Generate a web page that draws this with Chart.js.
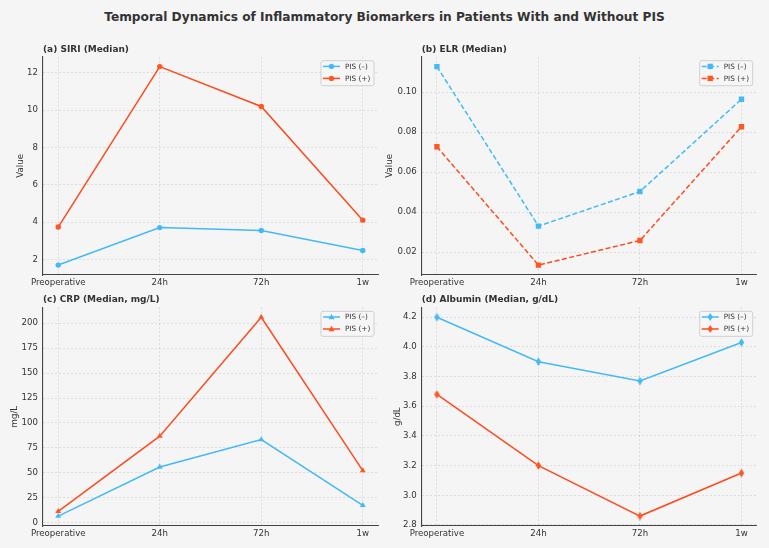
<!DOCTYPE html>
<html><head><meta charset="utf-8">
<script src="https://cdn.jsdelivr.net/npm/chart.js@4.4.0/dist/chart.umd.min.js"></script>
<style>
html,body{margin:0;padding:0;background:#f5f5f5;}
#wrap{position:relative;width:769px;height:548px;background:#f5f5f5;overflow:hidden;}
#title{position:absolute;left:0;top:10px;width:769px;line-height:14px;text-align:center;font-family:"DejaVu Sans";font-weight:bold;font-size:12.2px;color:#333;white-space:nowrap;}
canvas{position:absolute;}
</style></head><body>
<div id="wrap">
<div id="title">Temporal Dynamics of Inflammatory Biomarkers in Patients With and Without PIS</div>
<canvas id="c0"></canvas><canvas id="c1"></canvas><canvas id="c2"></canvas><canvas id="c3"></canvas>
</div>
<script>
const categories = ['Preoperative', '24h', '72h', '1w'];
const seriesLabels = ['PIS (–)', 'PIS (+)'];
const siriNeg = [1.69, 3.70, 3.55, 2.47];
const siriPos = [3.73, 12.34, 10.20, 4.10];
const elrNeg = [0.1128, 0.0330, 0.0503, 0.0965];
const elrPos = [0.0727, 0.0135, 0.0258, 0.0827];
const crpNeg = [6.7, 55.9, 83.4, 17.4];
const crpPos = [11.4, 86.8, 206.0, 52.3];
const albNeg = [4.20, 3.90, 3.77, 4.03];
const albPos = [3.68, 3.20, 2.86, 3.15];
const siriTicks = [2, 4, 6, 8, 10, 12];
const elrTicks = [0.02, 0.04, 0.06, 0.08, 0.10];
const crpTicks = [0, 25, 50, 75, 100, 125, 150, 175, 200];
const albTicks = [2.8, 3.0, 3.2, 3.4, 3.6, 3.8, 4.0, 4.2];
const panelTitles = ['(a) SIRI (Median)', '(b) ELR (Median)', '(c) CRP (Median, mg/L)', '(d) Albumin (Median, g/dL)'];
const yTitles = ['Value', 'Value', 'mg/L', 'g/dL'];

const BLUE = '#45b9f5', RED = '#ff4a1f', REDM = '#ff5722';
const FONT = 'DejaVu Sans';

function thinDiamond(color) {
  const c = document.createElement('canvas');
  c.width = 7; c.height = 9;
  const g = c.getContext('2d');
  g.fillStyle = color;
  g.beginPath(); g.moveTo(3.5, 0.3); g.lineTo(6.2, 4.5); g.lineTo(3.5, 8.7); g.lineTo(0.8, 4.5); g.closePath(); g.fill();
  return c;
}

function drawMarker(ctx, style, x, y, color) {
  ctx.fillStyle = color;
  ctx.beginPath();
  if (style === 'circle') { ctx.arc(x, y, 2.6, 0, Math.PI * 2); }
  else if (style === 'rect') { ctx.rect(x - 2.7, y - 2.7, 5.4, 5.4); }
  else if (style === 'triangle') { ctx.moveTo(x, y - 3.2); ctx.lineTo(x + 3, y + 2.2); ctx.lineTo(x - 3, y + 2.2); ctx.closePath(); }
  else { ctx.moveTo(x, y - 4); ctx.lineTo(x + 2.6, y); ctx.lineTo(x, y + 4); ctx.lineTo(x - 2.6, y); ctx.closePath(); }
  ctx.fill();
}

const insideLegend = {
  id: 'insideLegend',
  afterDraw(chart) {
    const ctx = chart.ctx, a = chart.chartArea;
    const w = 53, h = 25, x = a.right - 4 - w, y = a.top + 4;
    ctx.save();
    ctx.beginPath();
    if (ctx.roundRect) ctx.roundRect(x, y, w, h, 2); else ctx.rect(x, y, w, h);
    ctx.fillStyle = 'rgba(246,246,246,0.85)';
    ctx.fill();
    ctx.strokeStyle = '#cfcfcf'; ctx.lineWidth = 1; ctx.stroke();
    chart.data.datasets.forEach((ds, i) => {
      const cy = y + 5.7 + i * 12;
      ctx.strokeStyle = ds.borderColor; ctx.lineWidth = 1.5;
      ctx.setLineDash(ds.borderDash || []);
      ctx.beginPath(); ctx.moveTo(x + 2, cy); ctx.lineTo(x + 19, cy); ctx.stroke();
      ctx.setLineDash([]);
      drawMarker(ctx, ds.markerKind, x + 10.5, cy, ds.pointBackgroundColor);
      ctx.fillStyle = '#333'; ctx.font = '7.3px "' + FONT + '"';
      ctx.textBaseline = 'middle'; ctx.textAlign = 'left';
      ctx.fillText(ds.label, x + 24, cy + 0.5);
    });
    ctx.restore();
  }
};

const panels = [
  { id: 'c0', left: 0, top: 30, w: 385, h: 265, yW: 43, rPad: 7, xH: 20, tTop: 13.9, tBot: 2, yTitlePad: 15.9,
    neg: siriNeg, pos: siriPos, ticks: siriTicks, dec: 0, kind: 'circle', dash: null },
  { id: 'c1', left: 385, top: 30, w: 384, h: 265, yW: 36.7, rPad: 12.3, xH: 20, tTop: 13.9, tBot: 2, yTitlePad: 0,
    neg: elrNeg, pos: elrPos, ticks: elrTicks, dec: 2, kind: 'rect', dash: [5, 2.5] },
  { id: 'c2', left: 0, top: 283, w: 385, h: 265, yW: 43, rPad: 7, xH: 22, tTop: 10.9, tBot: 2.6, yTitlePad: 9.9,
    neg: crpNeg, pos: crpPos, ticks: crpTicks, dec: 0, kind: 'triangle', dash: null },
  { id: 'c3', left: 385, top: 283, w: 384, h: 265, yW: 36.7, rPad: 12.3, xH: 22, tTop: 10.9, tBot: 2.6, yTitlePad: 7.9,
    neg: albNeg, pos: albPos, ticks: albTicks, dec: 1, kind: 'diamond', dash: null }
];

panels.forEach((p, k) => {
  const cv = document.getElementById(p.id);
  cv.width = p.w; cv.height = p.h;
  cv.style.left = p.left + 'px'; cv.style.top = p.top + 'px';
  cv.style.width = p.w + 'px'; cv.style.height = p.h + 'px';
  const all = p.neg.concat(p.pos);
  const lo = Math.min(...all), hi = Math.max(...all), m = (hi - lo) * 0.05;
  const mk = (label, arr, color, mcolor) => {
    const ds = {
      label: label,
      data: categories.map((c, i) => ({ x: i, y: arr[i] })),
      borderColor: color, backgroundColor: mcolor,
      pointBackgroundColor: mcolor, pointBorderColor: mcolor, pointBorderWidth: 0,
      borderWidth: 1.5, tension: 0, fill: false, markerKind: p.kind
    };
    if (p.dash) ds.borderDash = p.dash;
    if (p.kind === 'diamond') { ds.pointStyle = thinDiamond(mcolor); }
    else { ds.pointStyle = p.kind; ds.pointRadius = p.kind === 'rect' ? 3.8 : (p.kind === 'triangle' ? 3.4 : 2.7); }
    return ds;
  };
  new Chart(cv, {
    type: 'line',
    data: { datasets: [mk(seriesLabels[0], p.neg, BLUE, BLUE), mk(seriesLabels[1], p.pos, RED, REDM)] },
    options: {
      responsive: false, animation: false, devicePixelRatio: 1,
      layout: { padding: { left: 0, right: p.rPad, top: 0, bottom: 0 } },
      plugins: {
        legend: { display: false }, tooltip: { enabled: false },
        title: { display: true, text: panelTitles[k], align: 'start', fullSize: false, color: '#333',
          font: { family: FONT, size: 9, weight: 'bold' }, padding: { top: p.tTop, bottom: p.tBot } }
      },
      scales: {
        x: {
          type: 'linear', min: -0.15, max: 3.15,
          afterBuildTicks: s => { s.ticks = categories.map((c, i) => ({ value: i })); },
          afterFit: s => { s.height = p.xH; },
          ticks: { callback: v => categories[v], autoSkip: false, maxRotation: 0, color: '#333', padding: 3,
            font: { family: FONT, size: 8.6 } },
          grid: { color: 'rgba(0,0,0,0.13)', lineWidth: 0.8, drawTicks: false },
          border: { display: true, color: '#444', width: 1.1, dash: [2, 2] }
        },
        y: {
          type: 'linear', min: lo - m, max: hi + m,
          afterBuildTicks: s => { s.ticks = p.ticks.map(v => ({ value: v })); },
          afterFit: s => { s.width = p.yW; },
          ticks: { callback: v => Number(v).toFixed(p.dec), color: '#333', padding: 5,
            font: { family: FONT, size: 8.6 } },
          grid: { color: 'rgba(0,0,0,0.13)', lineWidth: 0.8, drawTicks: false },
          border: { display: true, color: '#444', width: 1.1, dash: [2, 2] },
          title: { display: true, text: yTitles[k], color: '#333', font: { family: FONT, size: 8.6 },
            padding: { top: p.yTitlePad, bottom: 0 } }
        }
      }
    },
    plugins: [insideLegend]
  });
});
</script>
</body></html>
